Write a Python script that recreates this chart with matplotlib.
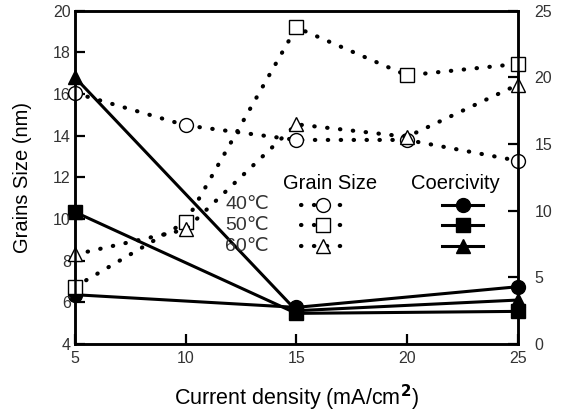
import matplotlib
matplotlib.use('Agg')
import matplotlib.pyplot as plt

# ==========================================
# DATA
# ==========================================
current = [5, 10, 15, 20, 25]
grain_40 = [16.05, 14.5, 13.8, 13.8, 12.8]
grain_50 = [6.75, 9.86, 19.2, 16.9, 17.45]
grain_60 = [8.3, 9.5, 14.55, 13.95, 16.45]

coer_x = [5, 15, 25]
coer_40 = [3.7, 2.75, 4.3]
coer_50 = [9.9, 2.3, 2.45]
coer_60 = [20.0, 2.5, 3.3]

temps = ['40℃', '50℃', '60℃']
markers = ['o', 's', '^']

# ==========================================
# STYLE
# ==========================================
plt.rcParams['font.family'] = ['Liberation Sans', 'DejaVu Sans']
dot_style = dict(linestyle=(0, (0.1, 3.0)), dash_capstyle='round',
                 linewidth=3.0, color='black', markersize=10,
                 markerfacecolor='white', markeredgecolor='black',
                 markeredgewidth=1.0)
solid_style = dict(linestyle='-', linewidth=2.2, color='black',
                   markersize=10, markerfacecolor='black',
                   markeredgecolor='black')

fig = plt.figure(figsize=(5.64, 4.16), dpi=100)
ax = fig.add_axes([0.133, 0.173, 0.785, 0.801])
ax2 = ax.twinx()

# ==========================================
# COERCIVITY (right axis)
# ==========================================
for vals, m in zip([coer_40, coer_50, coer_60], markers):
    ax2.plot(coer_x, vals, marker=m, clip_on=False, **solid_style)

# ==========================================
# GRAIN SIZE (left axis)
# ==========================================
for vals, m in zip([grain_40, grain_50, grain_60], markers):
    ax.plot(current, vals, marker=m, clip_on=False, **dot_style)

ax.set_zorder(ax2.get_zorder() + 1)
ax.patch.set_visible(False)

# ==========================================
# AXES
# ==========================================
ax.set_xlim(5, 25)
ax.set_ylim(4, 20)
ax2.set_ylim(0, 25)
ax.set_xticks([5, 10, 15, 20, 25])
ax.set_yticks([4, 6, 8, 10, 12, 14, 16, 18, 20])
ax2.set_yticks([0, 5, 10, 15, 20, 25])

for a in (ax, ax2):
    for s in a.spines.values():
        s.set_linewidth(1.8)
ax.tick_params(axis='both', direction='in', length=7, width=1.6,
               labelsize=11.5, labelcolor='#333333', pad=3)
ax.tick_params(axis='x', pad=5)
ax2.tick_params(axis='y', direction='in', length=7, width=1.6,
                labelsize=11.5, labelcolor='#333333', pad=12)

ax.set_xlabel('Current density (mA/cm$^{\\mathbf{2}}$)', fontsize=15.5, labelpad=12)
ax.set_ylabel('Grains Size (nm)', fontsize=14.5, labelpad=15)

# ==========================================
# LEGEND (hand made, two columns)
# ==========================================
rows_y = [0.418, 0.356, 0.294]
ax.text(0.576, 0.483, 'Grain Size', transform=ax.transAxes,
        ha='center', va='center', fontsize=14.5)
ax.text(0.858, 0.483, 'Coercivity', transform=ax.transAxes,
        ha='center', va='center', fontsize=14.5)
for t, m, yy in zip(temps, markers, rows_y):
    ax.text(0.339, yy, t, transform=ax.transAxes, ha='left',
            va='center', fontsize=14, color='#333333')
    ax.plot([0.51, 0.56, 0.605], [yy, yy, yy], transform=ax.transAxes,
            marker=m, markevery=[1], clip_on=False, **dot_style)
    ax.plot([0.83, 0.876, 0.922], [yy, yy, yy], transform=ax.transAxes,
            marker=m, markevery=[1], clip_on=False, **solid_style)

plt.savefig('out.png', dpi=100)
plt.close()
